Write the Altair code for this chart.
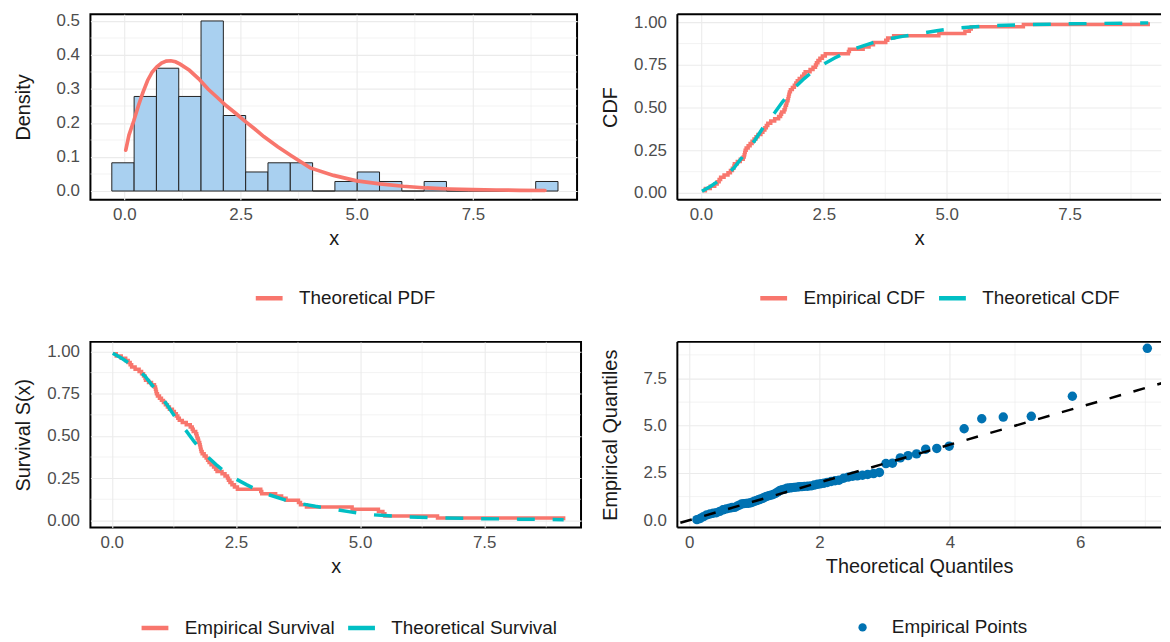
import altair as alt
import pandas as pd

RED = "#F8766D"
CYAN = "#00BFC4"
BAR_FILL = "#A9D0F0"
QQ_BLUE = "#0072B2"
GRID = "#EBEBEB"
FONT = "Liberation Sans"

# ---------------- data ----------------
# histogram bins (edges) and densities
bin_edges = [-0.27, 0.21, 0.69, 1.17, 1.65, 2.13, 2.61, 3.09, 3.57, 4.05, 4.53,
             5.01, 5.49, 5.97, 6.45, 6.93, 7.41, 7.89, 8.37, 8.85, 9.33]
bin_density = [0.083, 0.278, 0.361, 0.278, 0.500, 0.222, 0.056, 0.083, 0.083, 0.0,
               0.028, 0.056, 0.028, 0.0, 0.028, 0.0, 0.0, 0.0, 0.0, 0.028]

# theoretical PDF curve
pdf_x = [0.03, 0.1, 0.2, 0.3, 0.4, 0.5, 0.6, 0.7, 0.8, 0.9, 1.0, 1.1, 1.2, 1.4, 1.6,
         1.8, 2.0, 2.2, 2.4, 2.6, 2.8, 3.0, 3.3, 3.6, 4.0, 4.5, 5.0, 5.5, 6.0, 6.5,
         7.0, 7.5, 8.0, 8.5, 9.05]
pdf_y = [0.12, 0.165, 0.205, 0.25, 0.29, 0.325, 0.35, 0.365, 0.376, 0.382, 0.383,
         0.38, 0.373, 0.355, 0.33, 0.30, 0.275, 0.25, 0.228, 0.205, 0.183, 0.16,
         0.13, 0.103, 0.068, 0.046, 0.030, 0.021, 0.014, 0.009, 0.006, 0.004,
         0.003, 0.002, 0.0015]

# theoretical CDF curve
cdf_x = [0.02, 0.2, 0.4, 0.67, 0.9, 1.1, 1.28, 1.5, 1.66, 1.88, 2.1, 2.27, 2.5,
         2.72, 3.0, 3.18, 3.5, 3.78, 4.1, 4.39, 4.8, 5.15, 5.5, 5.9, 6.5, 7.43,
         8.2, 9.1]
cdf_y = [0.01, 0.04, 0.08, 0.146, 0.233, 0.31, 0.39, 0.47, 0.534, 0.61, 0.67,
         0.71, 0.755, 0.79, 0.83, 0.85, 0.88, 0.90, 0.917, 0.93, 0.95, 0.965,
         0.972, 0.98, 0.985, 0.99, 0.993, 0.996]

# sorted sample (empirical quantiles)
sample = [0.03, 0.09, 0.19,
          0.28, 0.33, 0.37, 0.40, 0.47, 0.55, 0.60, 0.64, 0.67, 0.68,
          0.74, 0.80, 0.86, 0.88, 0.89, 0.90, 0.92, 0.96, 1.00, 1.04, 1.08, 1.12, 1.16,
          1.22, 1.26, 1.30, 1.33, 1.36, 1.42, 1.50, 1.58, 1.62, 1.64,
          1.69, 1.71, 1.72, 1.74, 1.75, 1.77, 1.78, 1.79, 1.80, 1.82, 1.86, 1.90,
          1.93, 1.96, 2.00, 2.05, 2.09, 2.12,
          2.22, 2.28, 2.33, 2.35, 2.38, 2.42, 2.47, 2.53,
          3.00, 3.02, 3.30, 3.42, 3.51, 3.76, 3.80, 3.92,
          4.84, 5.37, 5.46, 5.50, 6.56, 9.10]

# theoretical quantiles of the Q-Q plot
theo_q = [0.12, 0.17, 0.22, 0.27, 0.32, 0.37, 0.42, 0.47, 0.52, 0.57,
          0.62, 0.66, 0.70, 0.735, 0.77, 0.805, 0.84, 0.875, 0.91, 0.94,
          0.97, 1.0, 1.035, 1.065, 1.095, 1.13, 1.16, 1.19, 1.225, 1.255,
          1.29, 1.325, 1.36, 1.395, 1.43, 1.465, 1.50, 1.535, 1.57, 1.61,
          1.65, 1.69, 1.73, 1.77, 1.82, 1.87, 1.92, 1.97, 2.02, 2.07,
          2.12, 2.18, 2.24, 2.30, 2.37, 2.44, 2.51, 2.58, 2.66, 2.74,
          2.83, 2.92, 3.02, 3.12, 3.24, 3.36, 3.49, 3.63, 3.80, 3.99,
          4.22, 4.49, 4.82, 5.25, 5.88, 7.03]

# reference line y = x
qq_line_x = [-0.5, 7.5]

# axis ticks
x_major = [0, 2.5, 5, 7.5]
x_minor = [1.25, 3.75, 6.25, 8.75]
dens_major = [0, 0.1, 0.2, 0.3, 0.4, 0.5]
dens_minor = [0.05, 0.15, 0.25, 0.35, 0.45]
prob_major = [0, 0.25, 0.5, 0.75, 1.0]
prob_minor = [0.125, 0.375, 0.625, 0.875]
qx_major = [0, 2, 4, 6]
qx_minor = [1, 3, 5, 7]
qy_major = [0, 2.5, 5, 7.5]
qy_minor = [1.25, 3.75, 6.25, 8.75]

# ---------------- tables ----------------
n = len(sample)
hist_df = pd.DataFrame({"x0": bin_edges[:-1], "x1": bin_edges[1:], "d": bin_density})
pdf_df = pd.DataFrame({"x": pdf_x, "y": pdf_y, "s": "Theoretical PDF"})
ecdf_df = pd.DataFrame({"x": sample, "F": [(i + 1) / n for i in range(n)],
                        "S": [1 - (i + 1) / n for i in range(n)]})
ecdf_df["s1"] = "Empirical CDF"
ecdf_df["s2"] = "Empirical Survival"
tcdf_df = pd.DataFrame({"x": cdf_x, "F": cdf_y, "S": [1 - v for v in cdf_y]})
tcdf_df["s1"] = "Theoretical CDF"
tcdf_df["s2"] = "Theoretical Survival"
qq_df = pd.DataFrame({"t": theo_q, "e": sample, "s": "Empirical Points"})
qq_line_df = pd.DataFrame({"t": qq_line_x, "e": qq_line_x})
one_df = pd.DataFrame({"k": [0]})


def axis(major, fmt, title, is_x):
    kw = dict(values=major, tickCount=50, format=fmt, title=title,
              grid=True, gridWidth=1.1, gridColor=GRID,
              ticks=False, tickSize=0, domain=False,
              labelOverlap=False, labelFlush=False,
              labelFontSize=17, labelColor="#4D4D4D", labelFont=FONT,
              titleFontSize=20, titleFontWeight="normal", titleColor="#1A1A1A",
              titleFont=FONT)
    if is_x:
        kw.update(labelPadding=7, titlePadding=6)
    else:
        kw.update(labelPadding=11, titlePadding=9, minExtent=48)
    return alt.Axis(**kw)


def minor_grid(xs, ys):
    vx = alt.Chart(pd.DataFrame({"v": xs})).mark_rule(
        color=GRID, strokeWidth=0.6).encode(x="v:Q")
    hy = alt.Chart(pd.DataFrame({"v": ys})).mark_rule(
        color=GRID, strokeWidth=0.6).encode(y="v:Q")
    return [vx, hy]


def frame_open_right(h):
    # black frame on top, bottom and left (panel is cut at the right edge)
    top = alt.Chart(one_df).mark_rule(color="black", strokeWidth=2).encode(y=alt.value(0))
    bot = alt.Chart(one_df).mark_rule(color="black", strokeWidth=2).encode(y=alt.value(h))
    left = alt.Chart(one_df).mark_rule(color="black", strokeWidth=2).encode(x=alt.value(0))
    return [top, bot, left]


def legend(lx, ly, stype, ssize, cols, offset=14):
    return alt.Legend(title=None, orient="none", legendX=lx, legendY=ly,
                      direction="horizontal", columns=cols, symbolType=stype,
                      symbolSize=ssize, symbolStrokeWidth=4.5, symbolDash=[1, 0],
                      labelFontSize=19, labelFont=FONT, labelColor="#1A1A1A",
                      labelLimit=400, labelOffset=offset, columnPadding=4, padding=0)


def sx(dom):
    return alt.Scale(domain=dom, nice=False, zero=False)


H = 187

# ---------------- top left: histogram + PDF ----------------
TLX = [-0.73, 9.74]
TLY = [-0.026, 0.52]
bars = alt.Chart(hist_df).mark_rect(fill=BAR_FILL, stroke="#222222", strokeWidth=1).encode(
    x=alt.X("x0:Q", scale=sx(TLX), axis=axis(x_major, ".1f", "x", True)),
    x2="x1:Q",
    y=alt.Y("d:Q", scale=sx(TLY), axis=axis(dens_major, ".1f", "Density", False)),
    y2=alt.datum(0),
)
pdf_line = alt.Chart(pdf_df).mark_line(strokeWidth=3.7, strokeCap="round").encode(
    x="x:Q", y="y:Q",
    color=alt.Color("s:N", scale=alt.Scale(domain=["Theoretical PDF"], range=[RED]),
                    legend=legend(164, 270, "stroke", 729, 1)),
)
tl = alt.layer(*minor_grid(x_minor, dens_minor), bars, pdf_line).properties(width=490, height=H)

# ---------------- top right: CDFs ----------------
TRX = [-0.48, 9.36]
PY = [-0.04, 1.047]
cdf_scale = alt.Scale(domain=["Empirical CDF", "Theoretical CDF"], range=[RED, CYAN])
ecdf_line = alt.Chart(ecdf_df).mark_line(strokeWidth=3.5, interpolate="step-after").encode(
    x=alt.X("x:Q", scale=sx(TRX), axis=axis(x_major, ".1f", "x", True)),
    y=alt.Y("F:Q", scale=sx(PY), axis=axis(prob_major, ".2f", "CDF", False)),
    color=alt.Color("s1:N", scale=cdf_scale, legend=legend(81, 270, "stroke", 729, 2)),
)
tcdf_line = alt.Chart(tcdf_df).mark_line(strokeWidth=3.5, strokeDash=[18, 18]).encode(
    x="x:Q", y="F:Q",
    color=alt.Color("s1:N", scale=cdf_scale, legend=legend(81, 270, "stroke", 729, 2)),
)
tr = alt.layer(*minor_grid(x_minor, prob_minor), ecdf_line, tcdf_line,
               *frame_open_right(H)).properties(width=487, height=H,
                                                view=alt.ViewConfig(strokeWidth=0))

# ---------------- bottom left: survival ----------------
BLX = [-0.43, 9.45]
SY = [-0.043, 1.057]
surv_scale = alt.Scale(domain=["Empirical Survival", "Theoretical Survival"], range=[RED, CYAN])
esurv_line = alt.Chart(ecdf_df).mark_line(strokeWidth=3.5, interpolate="step-after").encode(
    x=alt.X("x:Q", scale=sx(BLX), axis=axis(x_major, ".1f", "x", True)),
    y=alt.Y("S:Q", scale=sx(SY), axis=axis(prob_major, ".2f", "Survival S(x)", False)),
    color=alt.Color("s2:N", scale=surv_scale, legend=legend(49, 272, "stroke", 729, 2)),
)
tsurv_line = alt.Chart(tcdf_df).mark_line(strokeWidth=3.5, strokeDash=[18, 18]).encode(
    x="x:Q", y="S:Q",
    color=alt.Color("s2:N", scale=surv_scale, legend=legend(49, 272, "stroke", 729, 2)),
)
bl = alt.layer(*minor_grid(x_minor, prob_minor), esurv_line, tsurv_line).properties(
    width=494, height=H)

# ---------------- bottom right: Q-Q ----------------
QX = [-0.18, 7.24]
QY = [-0.39, 9.44]
qq_pts = alt.Chart(qq_df).mark_circle(size=90, opacity=1).encode(
    x=alt.X("t:Q", scale=sx(QX), axis=axis(qx_major, ".0f", "Theoretical Quantiles", True)),
    y=alt.Y("e:Q", scale=sx(QY), axis=axis(qy_major, ".1f", "Empirical Quantiles", False)),
    color=alt.Color("s:N", scale=alt.Scale(domain=["Empirical Points"], range=[QQ_BLUE]),
                    legend=legend(177, 278, "circle", 70, 1, offset=20)),
)
qq_ref = alt.Chart(qq_line_df).mark_line(color="black", strokeWidth=2.5,
                                         strokeDash=[12, 13], clip=True).encode(
    x="t:Q", y="e:Q")
br = alt.layer(*minor_grid(qx_minor, qy_minor), qq_pts, qq_ref,
               *frame_open_right(H)).properties(width=487, height=H,
                                                view=alt.ViewConfig(strokeWidth=0))

chart = alt.concat(
    tl, tr, bl, br, columns=2, bounds="flush", spacing={"row": 143, "column": 97}
).resolve_scale(color="independent").properties(
    padding={"left": 5, "top": 0, "right": 0, "bottom": 0}
).configure(font=FONT).configure_view(stroke="black", strokeWidth=2)

chart.save("out.html", embed_options={"renderer": "svg", "actions": False})
